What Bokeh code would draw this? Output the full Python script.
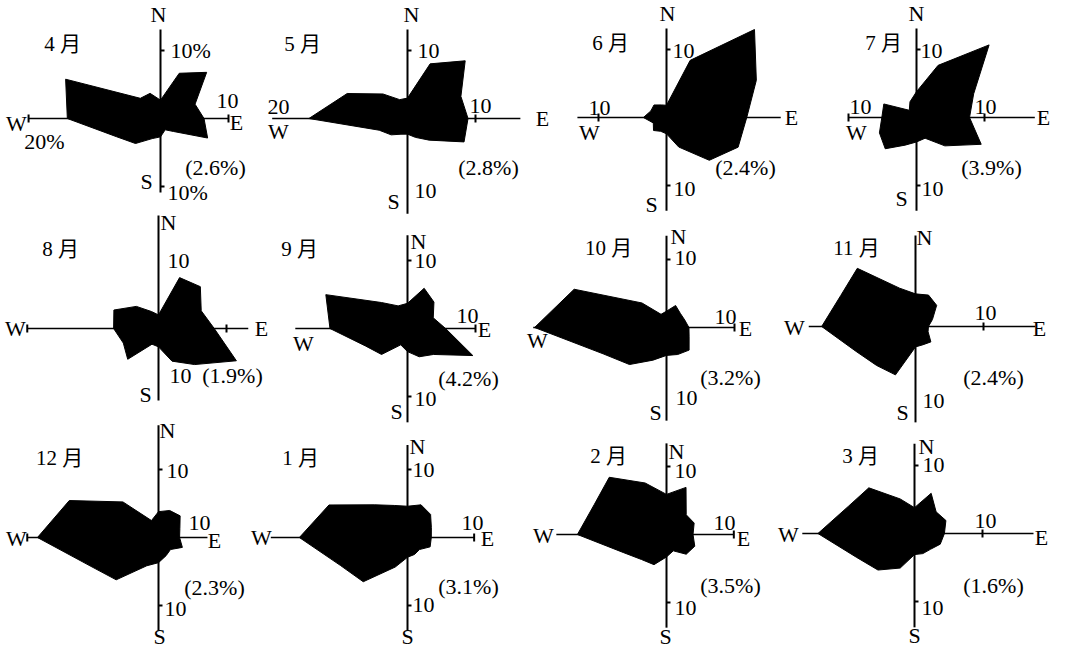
import math
from bokeh.plotting import figure
from bokeh.models import Range1d, ColumnDataSource
from bokeh.embed import file_html
from bokeh.resources import INLINE
from bokeh.core.properties import value

# ---------------- data ----------------
directions = ["N", "NNE", "NE", "ENE", "E", "ESE", "SE", "SSE",
              "S", "SSW", "SW", "WSW", "W", "WNW", "NW", "NNW"]
month_labels = ["4 月", "5 月", "6 月", "7 月", "8 月", "9 月",
                "10 月", "11 月", "12 月", "1 月", "2 月", "3 月"]
calm_labels = ["(2.6%)", "(2.8%)", "(2.4%)", "(3.9%)", "(1.9%)", "(4.2%)",
               "(3.2%)", "(2.4%)", "(2.3%)", "(3.1%)", "(3.5%)", "(1.6%)"]

# wind direction frequency (%) for the 16 directions, N clockwise
apr = [2.7, 7.2, 9.6, 5.5, 6.4, 7.5, 2.7, 1.8, 2.7, 3.2, 5.2, 7.0, 13.7, 15.1, 4.2, 4.0]
may = [3.0, 8.7, 12.0, 8.5, 8.9, 9.0, 4.5, 3.0, 2.3, 2.5, 3.4, 4.5, 14.5, 9.6, 5.1, 3.0]
jun = [1.8, 9.1, 18.3, 14.3, 11.8, 11.4, 8.9, 4.7, 2.4, 2.2, 2.7, 2.1, 3.4, 2.5, 2.6, 2.0]
jul = [3.8, 8.3, 15.1, 9.1, 7.8, 10.3, 5.9, 3.3, 3.6, 4.4, 6.5, 5.9, 5.1, 5.2, 1.5, 2.5]
aug = [2.0, 8.1, 8.7, 6.8, 8.2, 12.4, 7.5, 5.2, 2.7, 2.5, 6.4, 5.6, 6.6, 7.1, 4.6, 2.7]
sep = [3.7, 6.4, 5.5, 4.1, 5.6, 10.4, 5.4, 4.5, 3.4, 2.6, 5.4, 6.7, 11.4, 13.0, 5.4, 3.6]
oct_ = [2.4, 3.5, 2.9, 2.9, 3.3, 3.6, 4.7, 4.3, 4.1, 5.2, 7.7, 10.1, 19.4, 14.7, 5.1, 2.1]
nov = [4.8, 5.0, 4.4, 2.7, 1.9, 2.0, 3.2, 2.9, 3.0, 7.7, 8.1, 9.5, 13.8, 11.9, 12.1, 6.1]
dec = [3.8, 4.3, 4.5, 3.4, 3.1, 3.8, 2.5, 2.9, 3.7, 4.5, 8.8, 10.9, 17.8, 14.2, 7.4, 2.7]
jan = [4.6, 5.2, 4.8, 3.8, 3.5, 3.6, 2.5, 2.7, 2.9, 4.7, 9.2, 10.7, 15.9, 12.5, 6.8, 5.1]
feb = [5.9, 7.5, 4.1, 4.4, 3.9, 4.5, 4.1, 2.6, 3.3, 4.8, 5.2, 6.9, 13.1, 11.5, 11.9, 8.2]
mar = [3.8, 6.4, 4.5, 5.0, 4.4, 4.1, 3.3, 3.2, 3.1, 5.5, 7.6, 9.2, 14.2, 10.5, 9.5, 5.5]
freqs = [apr, may, jun, jul, aug, sep, oct_, nov, dec, jan, feb, mar]

# ---------------- layout (screen pixels, y down) ----------------
W, H = 1062, 652
SCALE = 6.8  # px per percent
CENTERS = [(160, 118), (407, 118), (666, 117), (916, 117),
           (158, 328), (407, 328), (666, 327), (915, 326),
           (158, 537), (407, 537), (666, 534), (914, 533)]
# axis extents in percent: north, south, east, west
AXES = [(13.1, 10.9, 10.0, 19.4), (13.1, 14.0, 16.6, 19.9),
        (13.1, 13.7, 16.8, 13.1), (13.1, 13.7, 17.4, 10.0),
        (16.6, 10.6, 13.2, 19.3), (13.7, 13.8, 10.0, 16.5),
        (13.5, 13.7, 10.0, 19.6), (13.4, 14.1, 17.6, 15.7),
        (16.5, 13.7, 7.2, 19.3), (13.6, 13.7, 9.8, 20.1),
        (13.4, 13.7, 9.9, 16.2), (13.2, 13.8, 17.5, 16.5)]
# ticks: (axis, percent)
TICKS = [[("N", 10), ("S", 10), ("E", 10), ("W", 19.4)],
         [("N", 10), ("E", 10)],
         [("N", 10), ("S", 10), ("W", 10)],
         [("N", 10), ("S", 10), ("E", 10), ("W", 10)],
         [("E", 10), ("W", 19.3)],
         [("N", 10), ("S", 10), ("E", 10)],
         [("N", 10), ("E", 10)],
         [("E", 10)],
         [("N", 10), ("S", 10), ("W", 19.3)],
         [("N", 10), ("S", 10), ("E", 9.8)],
         [("N", 10), ("S", 10), ("E", 9.9)],
         [("N", 10), ("S", 10), ("E", 10)]]
MONTH_POS = [(62, 43), (302, 43), (610, 42), (883, 42), (60, 248), (299, 248),
             (608, 247), (856, 247), (59, 457), (300, 457), (608, 455), (860, 455)]
CALM_POS = [(215, 167), (488, 167), (745, 167), (991, 167), (232, 375), (468, 378),
            (730, 377), (993, 377), (214, 587), (468, 586), (730, 585), (993, 585)]
LABELS = [
    [("N", 158, 14, "center"), ("10%", 170, 50, "left"), ("10", 227, 100, "center"),
     ("E", 236, 122, "center"), ("W", 16, 123, "center"), ("20%", 44, 141, "center"),
     ("S", 146, 181, "center"), ("10%", 167, 192, "left")],
    [("N", 411, 14, "center"), ("10", 428, 50, "center"), ("20", 278, 106, "center"),
     ("W", 278, 131, "center"), ("10", 480, 105, "center"), ("E", 542, 118, "center"),
     ("S", 393, 201, "center"), ("10", 425, 190, "center")],
    [("N", 667, 13, "center"), ("10", 683, 50, "center"), ("10", 599, 107, "center"),
     ("W", 589, 132, "center"), ("E", 791, 117, "center"), ("S", 651, 204, "center"),
     ("10", 684, 188, "center")],
    [("N", 916, 13, "center"), ("10", 931, 50, "center"), ("10", 860, 106, "center"),
     ("W", 856, 132, "center"), ("10", 985, 106, "center"), ("E", 1043, 117, "center"),
     ("S", 901, 198, "center"), ("10", 932, 188, "center")],
    [("N", 168, 222, "center"), ("10", 178, 260, "center"), ("W", 15, 328, "center"),
     ("E", 261, 328, "center"), ("10", 180, 375, "center"), ("S", 145, 394, "center")],
    [("N", 418, 241, "center"), ("10", 425, 260, "center"), ("10", 467, 315, "center"),
     ("E", 484, 329, "center"), ("W", 303, 343, "center"), ("10", 425, 398, "center"),
     ("S", 396, 411, "center")],
    [("N", 678, 236, "center"), ("10", 685, 257, "center"), ("10", 725, 316, "center"),
     ("E", 745, 328, "center"), ("W", 537, 340, "center"), ("10", 686, 397, "center"),
     ("S", 655, 412, "center")],
    [("N", 924, 237, "center"), ("W", 794, 327, "center"), ("10", 985, 312, "center"),
     ("E", 1039, 328, "center"), ("10", 933, 400, "center"), ("S", 902, 412, "center")],
    [("N", 167, 430, "center"), ("10", 177, 470, "center"), ("W", 16, 538, "center"),
     ("10", 199, 522, "center"), ("E", 214, 540, "center"), ("10", 175, 608, "center"),
     ("S", 159, 636, "center")],
    [("N", 417, 446, "center"), ("10", 423, 469, "center"), ("W", 261, 537, "center"),
     ("10", 472, 522, "center"), ("E", 487, 538, "center"), ("10", 423, 604, "center"),
     ("S", 407, 636, "center")],
    [("N", 676, 451, "center"), ("10", 685, 470, "center"), ("W", 543, 535, "center"),
     ("10", 724, 522, "center"), ("E", 743, 538, "center"), ("10", 685, 607, "center"),
     ("S", 665, 636, "center")],
    [("N", 926, 446, "center"), ("10", 933, 464, "center"), ("W", 788, 534, "center"),
     ("10", 985, 520, "center"), ("E", 1041, 537, "center"), ("10", 932, 607, "center"),
     ("S", 914, 635, "center")],
]

FONT = value("Liberation Serif, Noto Sans CJK JP")

p = figure(width=W, height=H, output_backend="svg", toolbar_location=None,
           x_range=Range1d(0, W), y_range=Range1d(H, 0),
           min_border=0, background_fill_color="white", border_fill_color="white")
p.axis.visible = False
p.grid.visible = False
p.outline_line_color = None

# axis lines
vx, vy, hx, hy, tx, ty = [], [], [], [], [], []
for (cx, cy), (n, s, e, w), ticks in zip(CENTERS, AXES, TICKS):
    vx.append([cx, cx]); vy.append([cy - n * SCALE, cy + s * SCALE])
    hx.append([cx - w * SCALE, cx + e * SCALE]); hy.append([cy, cy])
    for ax, pct in ticks:
        d = pct * SCALE
        if ax == "N":
            tx.append([cx, cx + 4]); ty.append([cy - d, cy - d])
        elif ax == "S":
            tx.append([cx, cx + 4]); ty.append([cy + d, cy + d])
        elif ax == "E":
            tx.append([cx + d, cx + d]); ty.append([cy - 4, cy + 4])
        else:
            tx.append([cx - d, cx - d]); ty.append([cy - 4, cy + 4])

p.multi_line(xs=vx, ys=vy, line_color="black", line_width=2)
p.multi_line(xs=hx, ys=hy, line_color="black", line_width=1.6)
p.multi_line(xs=tx, ys=ty, line_color="black", line_width=2)

# roses
pxs, pys = [], []
for (cx, cy), vals in zip(CENTERS, freqs):
    xs, ys = [], []
    for k, v in enumerate(vals):
        a = math.radians(22.5 * k)
        xs.append(cx + v * SCALE * math.sin(a))
        ys.append(cy - v * SCALE * math.cos(a))
    pxs.append(xs); pys.append(ys)
p.patches(xs=pxs, ys=pys, fill_color="black", line_color="black", line_width=1)

# month labels and calm percentages
p.text(x=[m[0] for m in MONTH_POS], y=[m[1] for m in MONTH_POS], text=month_labels,
       text_align="center", text_baseline="middle", text_font=FONT,
       text_font_size="21px", text_color="black")
p.text(x=[c[0] for c in CALM_POS], y=[c[1] for c in CALM_POS], text=calm_labels,
       text_align="center", text_baseline="middle", text_font=FONT,
       text_font_size="22px", text_color="black")

lx, ly, lt, la = [], [], [], []
for panel in LABELS:
    for t, x, y, al in panel:
        lx.append(x); ly.append(y); lt.append(t); la.append(al)
src = ColumnDataSource(dict(x=lx, y=ly, text=lt, align=la))
p.text(x="x", y="y", text="text", source=src, text_align="align",
       text_baseline="middle", text_font=FONT, text_font_size="22px",
       text_color="black")

open("out.html", "w").write(file_html(p, INLINE))
